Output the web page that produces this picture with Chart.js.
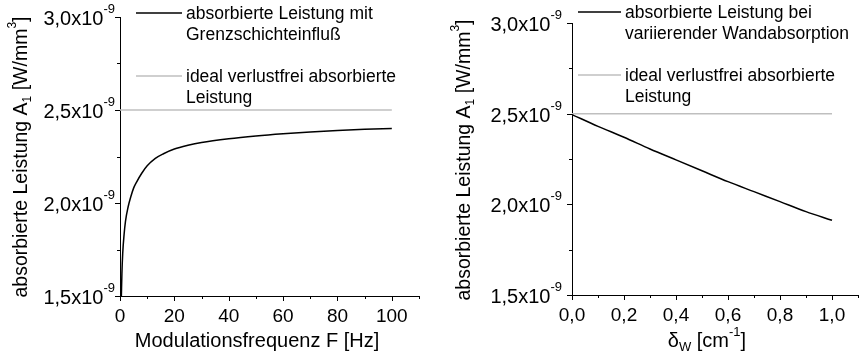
<!DOCTYPE html>
<html>
<head>
<meta charset="utf-8">
<script src="https://cdn.jsdelivr.net/npm/chart.js@4.4.1/dist/chart.umd.min.js"></script>
<style>
  html, body { margin: 0; padding: 0; background: #fff; }
  #wrap { position: relative; width: 859px; height: 354px; }
  canvas { position: absolute; top: 0; }
  #chart-freq { left: 0; }
  #chart-wall { left: 430px; }
</style>
</head>
<body>
<div id="wrap">
  <canvas id="chart-freq" width="430" height="354"></canvas>
  <canvas id="chart-wall" width="429" height="354"></canvas>
</div>
<script>
// Absorbed power, in units of 10^-9 W/mm³
const freqHz = [0.5, 0.7, 1, 1.5, 2, 3, 4, 5, 6, 8, 10, 13, 16, 20, 25, 30, 40, 50, 60, 70, 80, 90, 100];
const absorbedBoundary = [1.50, 1.62, 1.73, 1.83, 1.90, 1.98, 2.035, 2.08, 2.11, 2.16, 2.20, 2.24, 2.265, 2.29, 2.31, 2.325, 2.345, 2.36, 2.372, 2.382, 2.39, 2.396, 2.40];

const deltaW = [0, 0.1, 0.2, 0.3, 0.4, 0.5, 0.6, 0.7, 0.8, 0.9, 1.0];
const absorbedWall = [2.495, 2.43, 2.37, 2.305, 2.245, 2.185, 2.125, 2.07, 2.015, 1.96, 1.912];

const idealPower = 2.5;
const freqSpan = [0, 100];
const deltaSpan = [0, 1];

// Tick positions
const yMajor = [1.5, 2.0, 2.5, 3.0];
const yMinor = [1.75, 2.25, 2.75];
const freqMajor = [0, 20, 40, 60, 80, 100];
const freqMinor = [10, 30, 50, 70, 90, 110];
const deltaMajor = [0, 0.2, 0.4, 0.6, 0.8, 1.0];
const deltaMinor = [0.1, 0.3, 0.5, 0.7, 0.9, 1.1];

// Legend text, one entry per dataset, split into lines
const freqLegend = [["absorbierte Leistung mit", "Grenzschichteinfluß"], ["ideal verlustfrei absorbierte", "Leistung"]];
const wallLegend = [["absorbierte Leistung bei", "variierender Wandabsorption"], ["ideal verlustfrei absorbierte", "Leistung"]];

// Axis titles as [text, "sub"|"sup"] pieces
const yTitle = [["absorbierte Leistung A"], ["1", "sub"], [" [W/mm"], ["3", "sup"], ["]"]];
const freqTitle = [["Modulationsfrequenz F [Hz]"]];
const deltaTitle = [["δ"], ["W", "sub"], [" [cm"], ["-1", "sup"], ["]"]];

const FONT = "'Liberation Sans', Arial, sans-serif";

function drawRich(ctx, parts, x, y, size, align, rise = 0.5) {
  const small = Math.round(size * 0.64);
  const widths = parts.map(([t, kind]) => {
    ctx.font = `${kind ? small : size}px ${FONT}`;
    return ctx.measureText(t).width;
  });
  const total = widths.reduce((a, b) => a + b, 0);
  let cx = align === "right" ? x - total : align === "center" ? x - total / 2 : x;
  ctx.textAlign = "left";
  ctx.textBaseline = "alphabetic";
  parts.forEach(([t, kind], i) => {
    ctx.font = `${kind ? small : size}px ${FONT}`;
    const dy = kind === "sup" ? -size * rise : kind === "sub" ? size * 0.22 : 0;
    ctx.fillText(t, cx, y + dy);
    cx += widths[i];
  });
}

const fmtTick = (v, digits) => v.toFixed(digits).replace(".", ",");

// ticks, tick labels, titles and legend drawn in the plotting style
const paperAxes = {
  id: "paperAxes",
  afterDraw(chart, args, o) {
    const { ctx, chartArea: a, scales: { x, y } } = chart;
    ctx.save();
    ctx.strokeStyle = "#000";
    ctx.fillStyle = "#000";
    ctx.lineWidth = 1;
    const line = (x1, y1, x2, y2) => {
      ctx.beginPath();
      ctx.moveTo(x1, y1);
      ctx.lineTo(x2, y2);
      ctx.stroke();
    };
    const px = (v) => Math.round(x.getPixelForValue(v)) + 0.5;
    const py = (v) => Math.round(y.getPixelForValue(v)) + 0.5;

    o.xMajor.forEach((v) => line(px(v), a.bottom, px(v), a.bottom + 5));
    o.xMinor.forEach((v) => line(px(v), a.bottom, px(v), a.bottom + 3));
    yMajor.forEach((v) => line(a.left, py(v), a.left - 5, py(v)));
    yMinor.forEach((v) => line(a.left, py(v), a.left - 3, py(v)));

    o.xMajor.forEach((v) => {
      drawRich(ctx, [[fmtTick(v, o.xDigits)]], x.getPixelForValue(v), a.bottom + 26, 19, "center");
    });
    yMajor.forEach((v) => {
      drawRich(ctx, [[fmtTick(v, 1) + "x10"], ["-9", "sup"]], a.left - o.yLabelGap, y.getPixelForValue(v) + 8, 20, "right", 0.6);
    });

    drawRich(ctx, o.xTitle, o.xTitleAt[0], o.xTitleAt[1], 20, "center", 0.55);
    ctx.save();
    ctx.translate(o.yTitleAt[0], o.yTitleAt[1]);
    ctx.rotate(-Math.PI / 2);
    drawRich(ctx, yTitle, 0, 7, 19.5, "center", 0.55);
    ctx.restore();

    // legend: sample line followed by wrapped text
    chart.data.datasets.forEach((ds, i) => {
      const ly = o.legend.rows[i];
      ctx.strokeStyle = ds.borderColor;
      ctx.lineWidth = ds.borderWidth;
      line(o.legend.x, ly, o.legend.x + o.legend.len, ly);
      ds.legendLines.forEach((t, k) => {
        drawRich(ctx, [[t]], o.legend.x + o.legend.len + 4, ly + 6 + k * 21, 17.5, "left");
      });
    });
    ctx.restore();
  },
};

function makeChart(id, xs, ys, span, legendText, opts) {
  const curve = xs.map((v, i) => ({ x: v, y: ys[i] }));
  const ideal = span.map((v) => ({ x: v, y: idealPower }));
  return new Chart(document.getElementById(id), {
    type: "line",
    data: {
      datasets: [
        {
          label: legendText[0].join(" "),
          legendLines: legendText[0],
          data: curve,
          borderColor: "#000000",
          borderWidth: 1.5,
          pointRadius: 0,
          cubicInterpolationMode: "monotone",
        },
        {
          label: legendText[1].join(" "),
          legendLines: legendText[1],
          data: ideal,
          borderColor: "#bfbfbf",
          borderWidth: 1.5,
          pointRadius: 0,
        },
      ],
    },
    options: {
      responsive: false,
      animation: false,
      devicePixelRatio: 1,
      events: [],
      layout: { padding: { top: opts.top, right: opts.right, left: 0, bottom: 0 } },
      scales: {
        x: {
          type: "linear",
          min: opts.xMin,
          max: opts.xMax,
          grid: { display: false },
          border: { display: true, color: "#000", width: 1 },
          ticks: { display: false },
          afterFit(s) { s.height = opts.xHeight; },
        },
        y: {
          type: "linear",
          min: 1.5,
          max: 3.0,
          grid: { display: false },
          border: { display: true, color: "#000", width: 1 },
          ticks: { display: false },
          afterFit(s) { s.width = opts.yWidth; },
        },
      },
      plugins: {
        legend: { display: false },
        tooltip: { enabled: false },
        paperAxes: opts.axes,
      },
    },
    plugins: [paperAxes],
  });
}

makeChart("chart-freq", freqHz, absorbedBoundary, freqSpan, freqLegend, {
  top: 17, right: 11, xHeight: 58, yWidth: 120, xMin: 0, xMax: 110,
  axes: {
    xMajor: freqMajor, xMinor: freqMinor, xDigits: 0, yLabelGap: 5,
    xTitle: freqTitle, xTitleAt: [257, 347], yTitleAt: [20, 157],
    legend: { x: 136, len: 46, rows: [13, 76] },
  },
});

makeChart("chart-wall", deltaW, absorbedWall, deltaSpan, wallLegend, {
  top: 23, right: 1, xHeight: 59, yWidth: 142, xMin: 0, xMax: 1.1,
  axes: {
    xMajor: deltaMajor, xMinor: deltaMinor, xDigits: 1, yLabelGap: 10,
    xTitle: deltaTitle, xTitleAt: [277, 347], yTitleAt: [33, 160],
    legend: { x: 148, len: 43, rows: [12, 75] },
  },
});
</script>
</body>
</html>
